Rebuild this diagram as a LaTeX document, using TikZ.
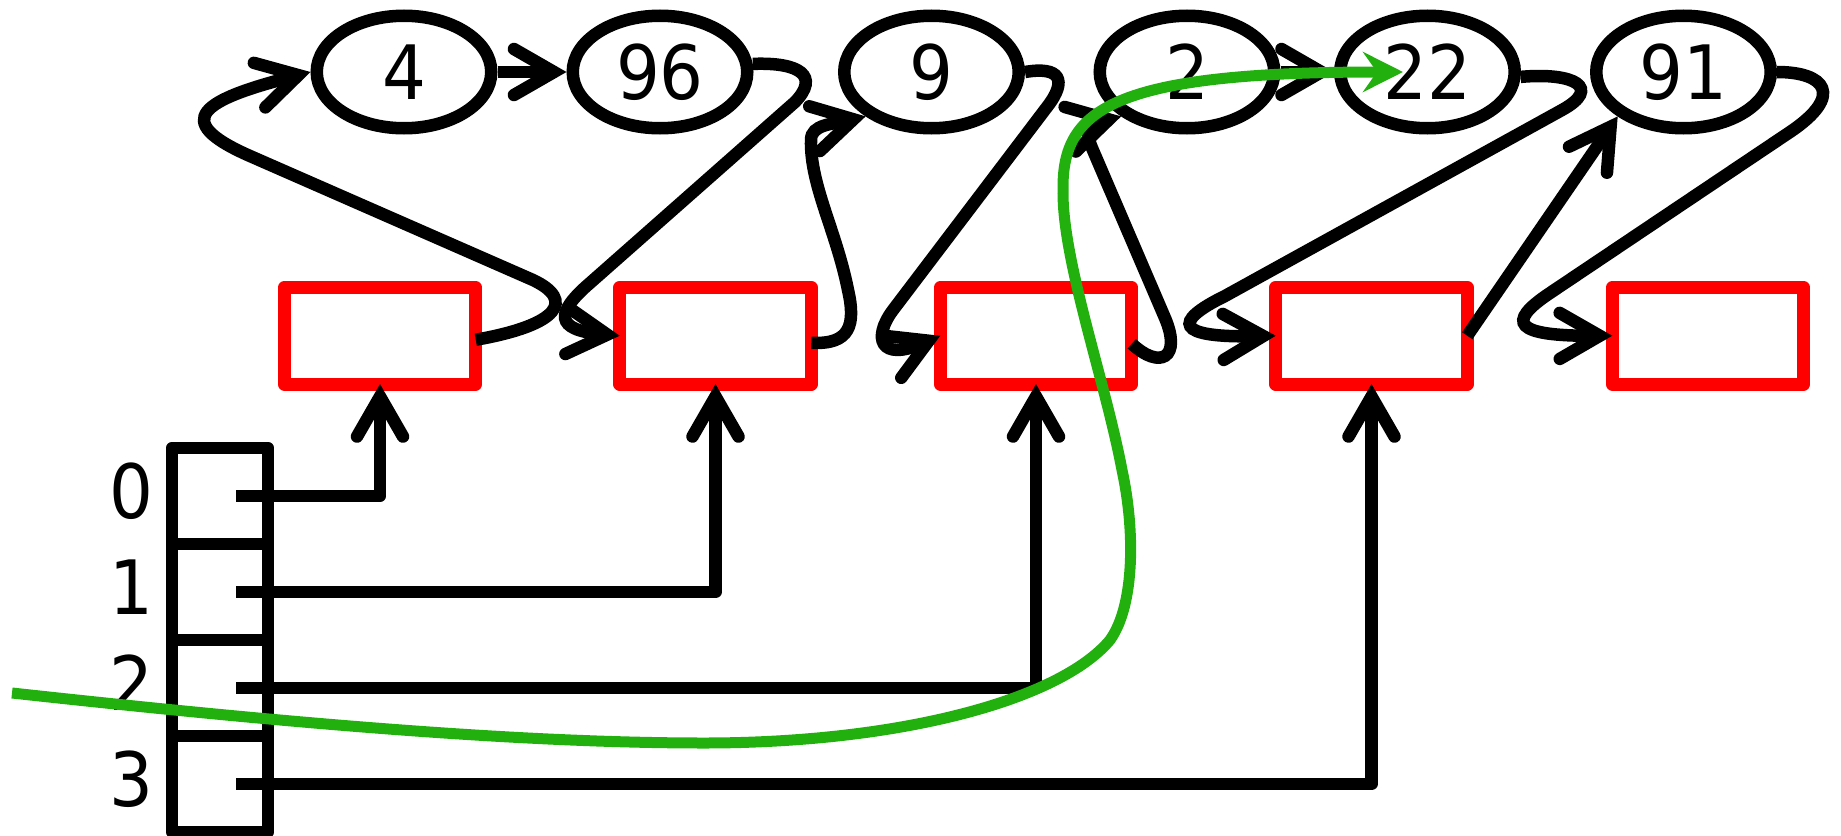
\documentclass[tikz,border=0pt]{standalone}
\usepackage{fontspec}
\setmainfont{DejaVu Sans}[FakeStretch=0.92]
\usetikzlibrary{arrows.meta,shapes.geometric}
\definecolor{tourgreen}{RGB}{34,176,14}
\begin{document}
\begin{tikzpicture}[x=1pt,y=-1pt,
  digits/.style={font=\fontsize{75pt}{90pt}\selectfont},
  elem/.style={draw, ellipse, line width=12.5pt, minimum width=174.5pt,
    minimum height=112.5pt, inner sep=0pt, digits},
  bucket/.style={draw=red, line width=13pt, line join=round,
    minimum width=191.5pt, minimum height=96.5pt, inner sep=0pt, outer sep=0pt},
  slot/.style={draw, line width=12.5pt, line join=round,
    minimum width=96pt, minimum height=96pt, inner sep=0pt, outer sep=0pt},
  idx/.style={anchor=base, inner sep=0pt, digits},
  barb/.style={-{Straight Barb[length=40pt,width=46pt,line cap=round,line join=miter]}},
  link/.style={line width=12.5pt, barb},
  ptr/.style={line width=12.5pt, line join=round, barb},
  tour/.style={draw=tourgreen, line width=11pt,
    -{Stealth[length=40pt,width=40pt,inset=14pt]}}
]
\useasboundingbox (0,0) rectangle (1841,835);

% list elements
\node[elem] (n4)  at (404,72)    {4};
\node[elem] (n96) at (660,72)    {96};
\node[elem] (n9)  at (931.5,72)  {9};
\node[elem] (n2)  at (1187,72)   {2};
\node[elem] (n22) at (1427.5,72) {22};
\node[elem] (n91) at (1683.5,72) {91};

% bucket sentinels
\node[bucket] (r1) at (380,335.75)    {};
\node[bucket] (r2) at (715.5,335.75)  {};
\node[bucket] (r3) at (1036,335.75)   {};
\node[bucket] (r4) at (1371.5,335.75) {};
\node[bucket] (r5) at (1708,335.75)   {};

% bucket array
\node[slot] (c0) at (220,496) {};
\node[slot] (c1) at (220,592) {};
\node[slot] (c2) at (220,688) {};
\node[slot] (c3) at (220,784) {};
\node[idx] (l0) at (131,518) {0};
\node[idx] (l1) at (131,614) {1};
\node[idx] (l2) at (131,710) {2};
\node[idx] (l3) at (131,806) {3};

% array slots point at their sentinels
\draw[ptr] ([xshift=16pt]c0.center) -| (r1.south);
\draw[ptr] ([xshift=16pt]c1.center) -| (r2.south);
\draw[ptr] ([xshift=16pt]c2.center) -| (r3.south);
\draw[ptr] ([xshift=16pt]c3.center) -| (r4.south);

% next links
\draw[link] ([yshift=-4pt]r1.east) .. controls (560,325) and (575,300) .. (533,280)
  -- (250,156) .. controls (168,120) and (204,99.5) .. (n4.west);
\draw[link] (n4.east) -- (n96.west);
\draw[link] (n96.5) .. controls (800,62) and (820,76) .. (795,102)
  -- (590,283) .. controls (555,313) and (555,330) .. (r2.west);
\draw[link] ([yshift=-7pt]r2.east) .. controls (850,345) and (856,325) .. (848,290)
  .. controls (836,230) and (810,185) .. (811,140)
  .. controls (811,124) and (834,124) .. (n9.-146);
\draw[link] (n9.east) .. controls (1060,66) and (1068,80) .. (1047,107)
  -- (893,310) .. controls (872,338) and (880,362) .. (r3.west);
\draw[link] ([yshift=-8pt]r3.east) .. controls (1160,370) and (1182,358) .. (1165,318)
  -- (1092,148) .. controls (1082,125) and (1095,123) .. (n2.-146);
\draw[link] (n2.east) -- (n22.west);
\draw[link] (n22.-3) .. controls (1575,72) and (1602,88) .. (1562,110)
  -- (1225,296) .. controls (1172,322) and (1175,338) .. (r4.west);
\draw[link] (r4.east) -- (n91.-146);
\draw[link] (n91.east) .. controls (1825,72) and (1845,95) .. (1790,132)
  -- (1550,293) .. controls (1505,323) and (1515,336) .. (r5.west);

% iteration path
\coordinate (gs) at (12,693);
\coordinate (gt) at ([xshift=-24.5pt]n22.center);
\draw[tour] (gs) .. controls (250,719) and (504,743) .. (704,743)
  .. controls (900,743) and (1060,700) .. (1110,640)
  .. controls (1135,605) and (1135,530) .. (1122,470)
  .. controls (1105,380) and (1062,260) .. (1063,190)
  .. controls (1062,110) and (1110,72) .. (gt);
\end{tikzpicture}
\end{document}
